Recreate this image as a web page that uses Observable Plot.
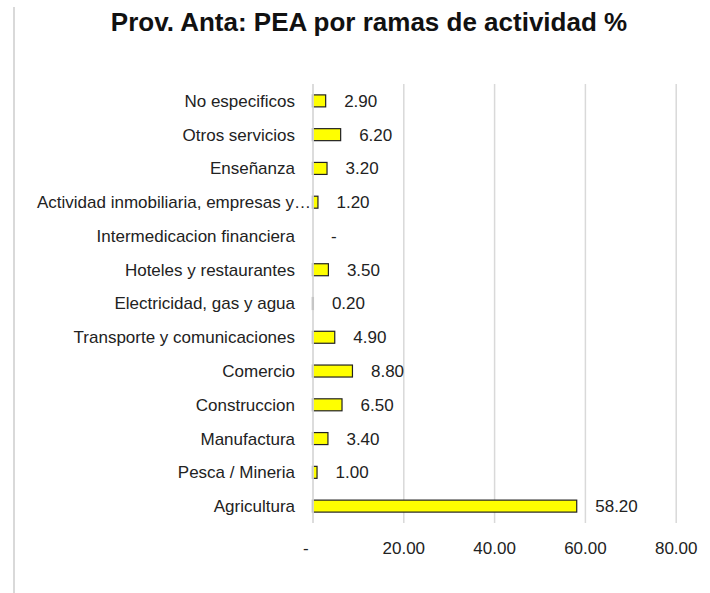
<!DOCTYPE html>
<html>
<head>
<meta charset="utf-8">
<script src="https://cdn.jsdelivr.net/npm/d3@7"></script>
<script src="https://cdn.jsdelivr.net/npm/@observablehq/plot@0.6"></script>
<style>
  html, body { margin: 0; padding: 0; background: #fff; overflow: hidden; }
  #wrap { position: relative; width: 710px; height: 593px; font-family: "Liberation Sans", Arial, sans-serif; }
  #border { position: absolute; left: 13px; top: 7px; width: 2px; height: 590px; background: #d9d9d9; }
  #title { position: absolute; left: 0; top: 0; width: 710px; height: 50px; box-sizing: border-box; padding-left: 28px;
           text-align: center; font-weight: bold; font-size: 26px; line-height: 44px; color: #111; }
  #chart { position: absolute; left: 0; top: 50px; }
</style>
</head>
<body>
<div id="wrap">
  <div id="border"></div>
  <div id="title">Prov. Anta: PEA por ramas de actividad %</div>
  <div id="chart"></div>
</div>
<script>
const categories = [
  "No especificos",
  "Otros servicios",
  "Enseñanza",
  "Actividad inmobiliaria, empresas y…",
  "Intermedicacion financiera",
  "Hoteles y restaurantes",
  "Electricidad, gas y agua",
  "Transporte y comunicaciones",
  "Comercio",
  "Construccion",
  "Manufactura",
  "Pesca / Mineria",
  "Agricultura"
];
const values = [2.9, 6.2, 3.2, 1.2, 0, 3.5, 0.2, 4.9, 8.8, 6.5, 3.4, 1.0, 58.2];
const xTicks = [0, 20, 40, 60, 80];

const data = categories.map((c, i) => ({ cat: c, val: values[i] }));
const fmt = v => v === 0 ? "-" : d3.format(".2f")(v);
const truncated = d => d.cat.endsWith("…");

const plot = Plot.plot({
  width: 710,
  height: 543,
  marginLeft: 312.5,
  marginRight: 34.3,
  marginTop: 34,
  marginBottom: 70,
  style: { fontFamily: "Liberation Sans, Arial, sans-serif", fontSize: "17px", color: "#222", background: "transparent" },
  x: { domain: [0, 80], ticks: xTicks, label: null, axis: null },
  y: { domain: categories, paddingInner: 0.645, paddingOuter: 0.3225, round: false, label: null, axis: null },
  marks: [
    Plot.gridX(xTicks.slice(1), { stroke: "#d9d9d9", strokeOpacity: 1, strokeWidth: 1.5 }),
    Plot.barX(data, { x: "val", y: "cat", fill: "#ffff00", stroke: "#222", strokeWidth: 1.2 }),
    Plot.ruleX([0], { stroke: "#d9d9d9", strokeWidth: 1.8 }),
    Plot.text(data, { x: "val", y: "cat", text: d => fmt(d.val), textAnchor: "start", dx: 18, fill: "#222", fontSize: 17 }),
    Plot.text(data.filter(d => !truncated(d)), { x: 0, y: "cat", text: "cat", textAnchor: "end", dx: -18, fill: "#222", fontSize: 17 }),
    Plot.text(data.filter(truncated), { x: 0, y: "cat", text: "cat", textAnchor: "end", dx: -2, fill: "#222", fontSize: 17 }),
    Plot.axisX(xTicks, { tickSize: 0, tickPadding: 18, tickFormat: d => d === 0 ? "-\u00a0\u00a0\u00a0" : d3.format(".2f")(d), fontSize: 17, fill: "#222", label: null })
  ]
});
document.getElementById("chart").appendChild(plot);
</script>
</body>
</html>
